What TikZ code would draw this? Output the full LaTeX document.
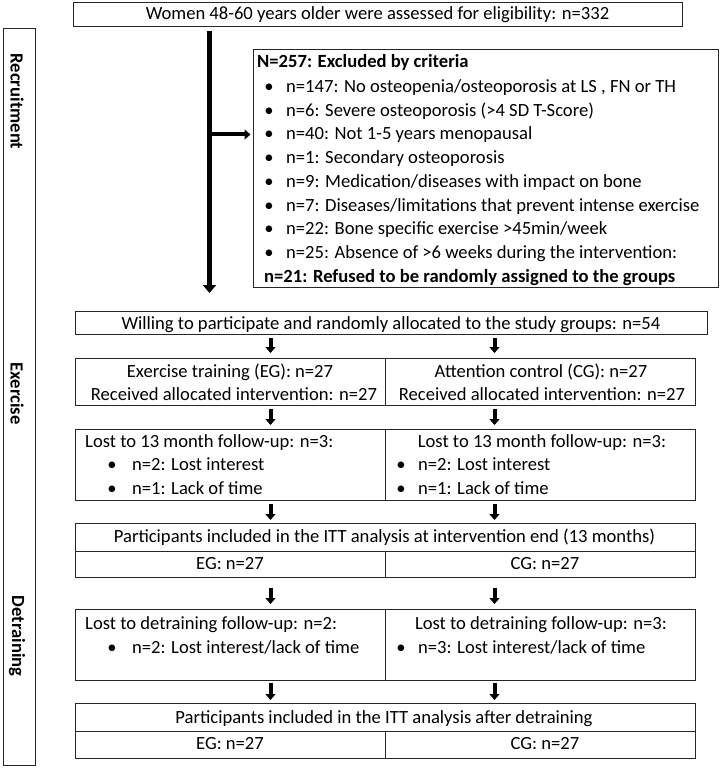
\documentclass[tikz,border=0pt]{standalone}
\usepackage{fontspec}
\setmainfont{Carlito}
\usetikzlibrary{arrows.meta}
\begin{document}
\begin{tikzpicture}[x=1pt,y=-1pt,
 box/.style={draw=black!85, line width=1.3pt, inner sep=0pt, anchor=north west},
 txt/.style={inner sep=0pt, anchor=base, font=\fontsize{18.6}{22}\selectfont},
 ltxt/.style={txt, anchor=base west},
 arr/.style={line width=4pt, -{Triangle[width=10pt,length=6pt]}},
 side/.style={inner sep=0pt, rotate=-90, font=\fontsize{18.6}{22}\selectfont\bfseries}]
\useasboundingbox (0,0) rectangle (720,770);
\newcommand{\bul}[1]{\llap{\textbullet\hspace{#1}}}
% boxes
\node[box, minimum width=609pt, minimum height=24pt] (top) at (73,2) {};
\node[box, minimum width=465.5pt, minimum height=238pt] (excl) at (252.5,49) {};
\node[box, minimum width=32pt, minimum height=737pt] (bar) at (3,28) {};
\node[box, minimum width=632pt, minimum height=23pt] (willing) at (75,311) {};
\node[box, minimum width=310pt, minimum height=47pt] (grpL) at (75,358) {};
\node[box, minimum width=310pt, minimum height=47pt] (grpR) at (385,358) {};
\node[box, minimum width=310pt, minimum height=71pt] (lostL) at (75,429) {};
\node[box, minimum width=310pt, minimum height=71pt] (lostR) at (385,429) {};
\node[box, minimum width=620pt, minimum height=28pt] (ittT) at (75,523) {};
\node[box, minimum width=310pt, minimum height=26pt] (ittL) at (75,551) {};
\node[box, minimum width=310pt, minimum height=26pt] (ittR) at (385,551) {};
\node[box, minimum width=310pt, minimum height=71pt] (detL) at (75,609) {};
\node[box, minimum width=310pt, minimum height=71pt] (detR) at (385,609) {};
\node[box, minimum width=620pt, minimum height=28pt] (finT) at (75,703) {};
\node[box, minimum width=310pt, minimum height=27pt] (finL) at (75,731) {};
\node[box, minimum width=310pt, minimum height=27pt] (finR) at (385,731) {};
% side labels
\node[side] (s1) at (17,101.5) {Recruitment};
\node[side] (s2) at (17,393.5) {Exercise};
\node[side] (s3) at (17,636) {Detraining};
% texts
\node[txt] (t0) at (377.5,20) {Women 48-60 years older were assessed for eligibility: n=332};
\node[ltxt, font=\fontsize{18.6}{22}\selectfont\bfseries] (e0) at (257,68) {N=257: Excluded by criteria};
\node[ltxt] (e1) at (286,92.5) {\bul{12.5pt}n=147: No osteopenia/osteoporosis at LS , FN or TH};
\node[ltxt] (e2) at (286,116.2) {\bul{12.5pt}n=6: Severe osteoporosis (>4 SD T-Score)};
\node[ltxt] (e3) at (286,139.9) {\bul{12.5pt}n=40: Not 1-5 years menopausal};
\node[ltxt] (e4) at (286,163.6) {\bul{12.5pt}n=1: Secondary osteoporosis};
\node[ltxt] (e5) at (286,187.3) {\bul{12.5pt}n=9: Medication/diseases with impact on bone};
\node[ltxt] (e6) at (286,211) {\bul{12.5pt}n=7: Diseases/limitations that prevent intense exercise};
\node[ltxt] (e7) at (286,234.7) {\bul{12.5pt}n=22: Bone specific exercise >45min/week};
\node[ltxt] (e8) at (286,258.4) {\bul{12.5pt}n=25: Absence of >6 weeks during the intervention:};
\node[ltxt, font=\fontsize{18.6}{22}\selectfont\bfseries] (e9) at (264,282) {n=21: Refused to be randomly assigned to the groups};
\node[txt] (w0) at (391,329) {Willing to participate and randomly allocated to the study groups: n=54};
\node[txt] (g1) at (230,377) {Exercise training (EG): n=27};
\node[txt] (g2) at (234,400) {Received allocated intervention: n=27};
\node[txt] (g3) at (541,377) {Attention control (CG): n=27};
\node[txt] (g4) at (542,400) {Received allocated intervention: n=27};
\node[ltxt] (l1) at (85,447) {Lost to 13 month follow-up: n=3:};
\node[ltxt] (l2) at (132,470) {\bul{15.5pt}n=2: Lost interest};
\node[ltxt] (l3) at (132,494) {\bul{15.5pt}n=1: Lack of time};
\node[txt] (l4) at (542,447) {Lost to 13 month follow-up: n=3:};
\node[ltxt] (l5) at (418,470) {\bul{12.5pt}n=2: Lost interest};
\node[ltxt] (l6) at (418,494) {\bul{12.5pt}n=1: Lack of time};
\node[txt] (i1) at (384.5,542) {Participants included in the ITT analysis at intervention end (13 months)};
\node[txt] (i2) at (230,569) {EG: n=27};
\node[txt] (i3) at (545,569) {CG: n=27};
\node[ltxt] (d1) at (85,629) {Lost to detraining follow-up: n=2:};
\node[ltxt] (d2) at (132,653) {\bul{15.5pt}n=2: Lost interest/lack of time};
\node[txt] (d3) at (541,629) {Lost to detraining follow-up: n=3:};
\node[ltxt] (d4) at (418,653) {\bul{12.5pt}n=3: Lost interest/lack of time};
\node[txt] (f1) at (384,723) {Participants included in the ITT analysis after detraining};
\node[txt] (f2) at (230,749) {EG: n=27};
\node[txt] (f3) at (545,749) {CG: n=27};
% arrows
\coordinate (vx) at (209.5,0);
\coordinate (hy) at (0,134.5);
\coordinate (cL) at (270.5,0);
\coordinate (cR) at (494.5,0);
\draw[line width=5pt, -{Triangle[width=13pt,length=8pt]}] ([yshift=-4pt]top.south -| vx) -- ([yshift=18pt]willing.north -| vx);
\draw[arr] (vx |- hy) -- ([xshift=-2pt]excl.west |- hy);
\foreach \c/\a/\b in {cL/grpL/lostL, cR/grpR/lostR}{
  \draw[arr] ([yshift=-3pt]\a.south -| \c) -- ([yshift=4pt]\b.north -| \c);
}
\draw[arr] ([yshift=-3pt]willing.south -| cL) -- ([yshift=5pt]grpL.north -| cL);
\draw[arr] ([yshift=-3pt]willing.south -| cR) -- ([yshift=5pt]grpR.north -| cR);
\draw[arr] ([yshift=-3pt]lostL.south -| cL) -- ([yshift=3pt]ittT.north -| cL);
\draw[arr] ([yshift=-3pt]lostR.south -| cR) -- ([yshift=3pt]ittT.north -| cR);
\draw[arr] ([yshift=-10pt]ittL.south -| cL) -- ([yshift=5pt]detL.north -| cL);
\draw[arr] ([yshift=-10pt]ittR.south -| cR) -- ([yshift=5pt]detR.north -| cR);
\draw[arr] ([yshift=-2pt]detL.south -| cL) -- ([yshift=3pt]finT.north -| cL);
\draw[arr] ([yshift=-2pt]detR.south -| cR) -- ([yshift=3pt]finT.north -| cR);
\end{tikzpicture}
\end{document}
